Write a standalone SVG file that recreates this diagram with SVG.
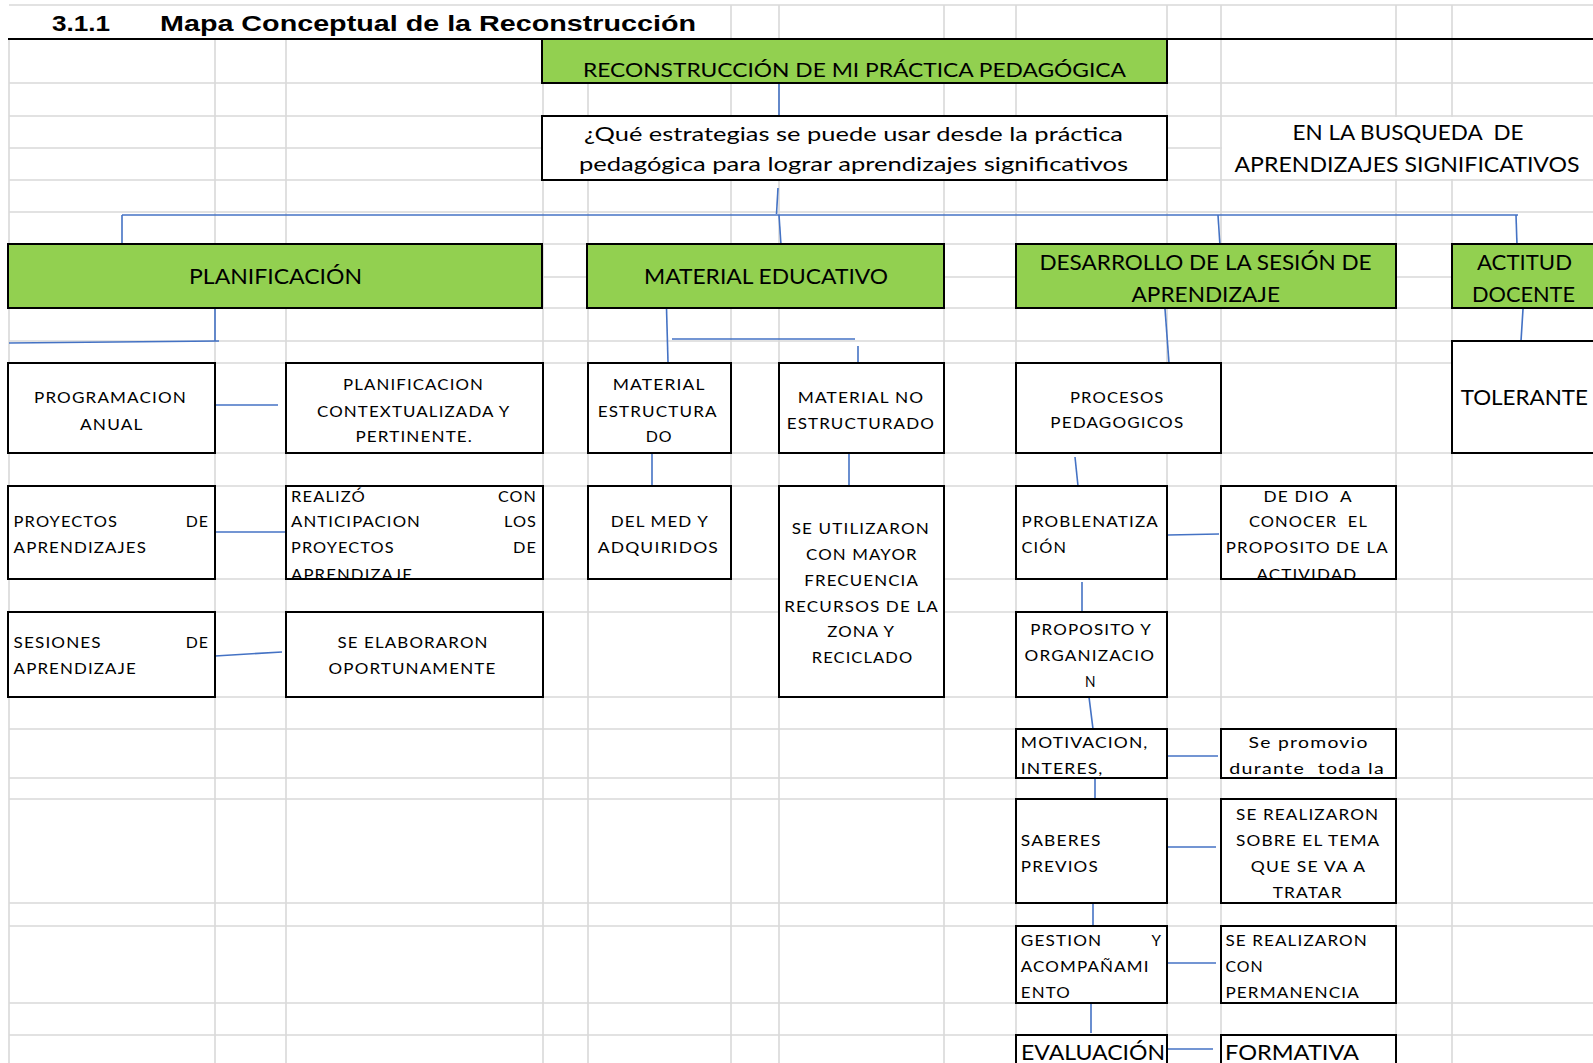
<svg xmlns="http://www.w3.org/2000/svg" width="1593" height="1063" viewBox="0 0 1593 1063">
<style>
.grid{stroke:#d9d9d9;stroke-width:1.6;fill:none}
.box{fill:#fff;stroke:#000;stroke-width:2}
.green{fill:#92d050}
.edge{fill:none;stroke:#000;stroke-width:2}
text{font-family:Lato,"Open Sans","Liberation Sans",sans-serif;fill:#000;white-space:pre}
.s{font-size:15px;letter-spacing:1px}
.m{font-size:19px}
.l{font-size:21px}
.title{font-family:"Liberation Sans",Arial,sans-serif;font-weight:bold;font-size:22px}
.conn line{stroke:#4472c4;stroke-width:1.6}
</style>
<rect width="1593" height="1063" fill="#fff"/>
<g id="grid">
<path class="grid" d="M9 39V1063M215 39V1063M286 39V1063M543 39V1063M588 39V1063M731 5V1063M779 5V1063M944 5V1063M1016 5V1063M1167 5V1063M1221 5V1063M1396 5V1063M1452 5V1063"/>
<path class="grid" d="M9 5H1593M9 83H1593M9 116H1593M9 148H1593M9 180H1593M9 212H1593M9 244H1593M9 277H1593M9 308H1593M9 341H1593M9 363H1593M9 453H1593M9 486H1593M9 579H1593M9 612H1593M9 697H1593M9 729H1593M9 778H1593M9 799H1593M9 903H1593M9 926H1593M9 1003H1593M9 1035H1593"/>
<rect x="1222" y="117" width="371" height="62" fill="#fff"/>
<line x1="8" y1="39" x2="1593" y2="39" stroke="#000" stroke-width="2"/>
</g>
<g id="heading">
<text class="title" x="52" y="31" textLength="58" lengthAdjust="spacingAndGlyphs">3.1.1</text>
<text class="title" x="160" y="31" textLength="536" lengthAdjust="spacingAndGlyphs">Mapa Conceptual de la Reconstrucción</text>
</g>
<g id="connectors" class="conn">
<line x1="779" y1="83" x2="779" y2="116"/>
<line x1="778" y1="188" x2="776.5" y2="214"/>
<line x1="122" y1="215" x2="1518" y2="215"/>
<line x1="122" y1="215" x2="122" y2="244"/>
<line x1="779" y1="215" x2="781" y2="245"/>
<line x1="1218" y1="215" x2="1220" y2="246"/>
<line x1="1516" y1="215" x2="1517" y2="245"/>
<line x1="215" y1="308" x2="215" y2="341"/>
<line x1="9" y1="343" x2="219" y2="341"/>
<line x1="216" y1="405" x2="278" y2="405"/>
<line x1="215" y1="532" x2="286" y2="532"/>
<line x1="215" y1="656" x2="282" y2="652"/>
<line x1="666.5" y1="308" x2="668" y2="362"/>
<line x1="672" y1="339" x2="855" y2="339"/>
<line x1="858" y1="346" x2="858" y2="363"/>
<line x1="652" y1="453" x2="652" y2="486"/>
<line x1="849" y1="452" x2="849" y2="486"/>
<line x1="1165" y1="309" x2="1169" y2="363"/>
<line x1="1523" y1="309" x2="1521" y2="341"/>
<line x1="1075" y1="457" x2="1078" y2="486"/>
<line x1="1168" y1="535" x2="1219" y2="534"/>
<line x1="1082" y1="582" x2="1082" y2="613"/>
<line x1="1089" y1="697" x2="1093" y2="729"/>
<line x1="1162" y1="756" x2="1218" y2="756"/>
<line x1="1095" y1="778" x2="1095" y2="803"/>
<line x1="1168" y1="847" x2="1216" y2="847"/>
<line x1="1093" y1="899" x2="1093" y2="926"/>
<line x1="1164" y1="963" x2="1216" y2="963"/>
<line x1="1091" y1="1003" x2="1091" y2="1033"/>
<line x1="1168" y1="1049" x2="1213" y2="1049"/>
</g>
<g id="n-reconstruccion">
<rect class="box green" x="542" y="39" width="625" height="44"/>
<text class="m" x="583" y="76.5" textLength="543" lengthAdjust="spacingAndGlyphs">RECONSTRUCCIÓN DE MI PRÁCTICA PEDAGÓGICA</text>
</g>
<g id="n-pregunta">
<rect class="box" x="542" y="116" width="625" height="64"/>
<text class="m" x="584" y="141" textLength="539" lengthAdjust="spacingAndGlyphs">¿Qué estrategias se puede usar desde la práctica</text>
<text class="m" x="579" y="171" textLength="549" lengthAdjust="spacingAndGlyphs">pedagógica para lograr aprendizajes significativos</text>
</g>
<g id="n-busqueda">
<text class="l" x="1292.5" y="140" textLength="231" lengthAdjust="spacingAndGlyphs">EN LA BUSQUEDA  DE</text>
<text class="l" x="1234.5" y="171.5" textLength="345" lengthAdjust="spacingAndGlyphs">APRENDIZAJES SIGNIFICATIVOS</text>
</g>
<g id="n-planificacion">
<rect class="box green" x="8" y="244" width="534" height="64"/>
<text class="l" x="189" y="284" textLength="173" lengthAdjust="spacingAndGlyphs">PLANIFICACIÓN</text>
</g>
<g id="n-material-educativo">
<rect class="box green" x="587" y="244" width="357" height="64"/>
<text class="l" x="644" y="284" textLength="244" lengthAdjust="spacingAndGlyphs">MATERIAL EDUCATIVO</text>
</g>
<g id="n-desarrollo">
<rect class="box green" x="1016" y="244" width="380" height="64"/>
<text class="l" x="1039.5" y="270" textLength="332" lengthAdjust="spacingAndGlyphs">DESARROLLO DE LA SESIÓN DE</text>
<text class="l" x="1131.5" y="301.5" textLength="148.5" lengthAdjust="spacingAndGlyphs">APRENDIZAJE</text>
</g>
<g id="n-actitud">
<rect class="box green" x="1452" y="244" width="150" height="64"/>
<text class="l" x="1477" y="270" textLength="95" lengthAdjust="spacingAndGlyphs">ACTITUD</text>
<text class="l" x="1472" y="301.5" textLength="103" lengthAdjust="spacingAndGlyphs">DOCENTE</text>
</g>
<g id="n-programacion">
<rect class="box" x="8" y="363" width="207" height="90"/>
<text class="s" x="34" y="402.5" textLength="153" lengthAdjust="spacingAndGlyphs">PROGRAMACION</text>
<text class="s" x="80" y="429.5" textLength="63.5" lengthAdjust="spacingAndGlyphs">ANUAL</text>
</g>
<g id="n-plan-contextualizada">
<rect class="box" x="286" y="363" width="257" height="90"/>
<text class="s" x="343" y="390" textLength="141" lengthAdjust="spacingAndGlyphs">PLANIFICACION</text>
<text class="s" x="317" y="416.5" textLength="193.5" lengthAdjust="spacingAndGlyphs">CONTEXTUALIZADA Y</text>
<text class="s" x="355.5" y="442" textLength="117.5" lengthAdjust="spacingAndGlyphs">PERTINENTE.</text>
</g>
<g id="n-material-estructurado">
<rect class="box" x="588" y="363" width="143" height="90"/>
<text class="s" x="612.7" y="390" textLength="93" lengthAdjust="spacingAndGlyphs">MATERIAL</text>
<text class="s" x="597.7" y="416.7" textLength="120" lengthAdjust="spacingAndGlyphs">ESTRUCTURA</text>
<text class="s" x="645.7" y="442.3" textLength="27" lengthAdjust="spacingAndGlyphs">DO</text>
</g>
<g id="n-material-no-estructurado">
<rect class="box" x="779" y="363" width="165" height="90"/>
<text class="s" x="797.7" y="403.3" textLength="126.6" lengthAdjust="spacingAndGlyphs">MATERIAL NO</text>
<text class="s" x="786.7" y="429.3" textLength="148.3" lengthAdjust="spacingAndGlyphs">ESTRUCTURADO</text>
</g>
<g id="n-procesos">
<rect class="box" x="1016" y="363" width="205" height="90"/>
<text class="s" x="1070" y="402.7" textLength="94.5" lengthAdjust="spacingAndGlyphs">PROCESOS</text>
<text class="s" x="1050.3" y="428.3" textLength="134" lengthAdjust="spacingAndGlyphs">PEDAGOGICOS</text>
</g>
<g id="n-tolerante">
<rect class="box" x="1452" y="341" width="150" height="112"/>
<text class="l" x="1460.7" y="405" textLength="127.3" lengthAdjust="spacingAndGlyphs">TOLERANTE</text>
</g>
<g id="n-proyectos">
<rect class="box" x="8" y="486" width="207" height="93"/>
<text class="s" x="13.6" y="527.3" textLength="104.4" lengthAdjust="spacingAndGlyphs">PROYECTOS</text>
<text class="s" x="185.7" y="527.3" textLength="23.3" lengthAdjust="spacingAndGlyphs">DE</text>
<text class="s" x="13.6" y="553.3" textLength="133.4" lengthAdjust="spacingAndGlyphs">APRENDIZAJES</text>
</g>
<g id="n-realizo">
<rect class="box" x="286" y="486" width="257" height="93"/>
<text class="s" x="291" y="501.7" textLength="75" lengthAdjust="spacingAndGlyphs">REALIZÓ</text>
<text class="s" x="498" y="501.7" textLength="39" lengthAdjust="spacingAndGlyphs">CON</text>
<text class="s" x="291" y="527.3" textLength="130" lengthAdjust="spacingAndGlyphs">ANTICIPACION</text>
<text class="s" x="504" y="527.3" textLength="33" lengthAdjust="spacingAndGlyphs">LOS</text>
<text class="s" x="291" y="553.3" textLength="103.6" lengthAdjust="spacingAndGlyphs">PROYECTOS</text>
<text class="s" x="513" y="553.3" textLength="24" lengthAdjust="spacingAndGlyphs">DE</text>
<text class="s" x="291" y="580" textLength="122" lengthAdjust="spacingAndGlyphs">APRENDIZAJE</text>
<rect class="edge" x="286" y="486" width="257" height="93"/>
</g>
<g id="n-del-med">
<rect class="box" x="588" y="486" width="143" height="93"/>
<text class="s" x="610.7" y="527.3" textLength="98.3" lengthAdjust="spacingAndGlyphs">DEL MED Y</text>
<text class="s" x="597.7" y="553.3" textLength="121.3" lengthAdjust="spacingAndGlyphs">ADQUIRIDOS</text>
</g>
<g id="n-se-utilizaron">
<rect class="box" x="779" y="486" width="165" height="211"/>
<text class="s" x="791.7" y="534" textLength="138.3" lengthAdjust="spacingAndGlyphs">SE UTILIZARON</text>
<text class="s" x="806" y="560" textLength="111.7" lengthAdjust="spacingAndGlyphs">CON MAYOR</text>
<text class="s" x="804.3" y="585.7" textLength="114.7" lengthAdjust="spacingAndGlyphs">FRECUENCIA</text>
<text class="s" x="784.3" y="611.7" textLength="154.7" lengthAdjust="spacingAndGlyphs">RECURSOS DE LA</text>
<text class="s" x="827.3" y="637.3" textLength="67.7" lengthAdjust="spacingAndGlyphs">ZONA Y</text>
<text class="s" x="811.7" y="663.3" textLength="101.6" lengthAdjust="spacingAndGlyphs">RECICLADO</text>
</g>
<g id="n-problematizacion">
<rect class="box" x="1016" y="486" width="151" height="93"/>
<text class="s" x="1021.6" y="527.3" textLength="137.3" lengthAdjust="spacingAndGlyphs">PROBLENATIZA</text>
<text class="s" x="1021.6" y="553.3" textLength="45.4" lengthAdjust="spacingAndGlyphs">CIÓN</text>
</g>
<g id="n-de-dio">
<rect class="box" x="1221" y="486" width="175" height="93"/>
<text class="s" x="1263.6" y="501.7" textLength="89.3" lengthAdjust="spacingAndGlyphs">DE DIO  A</text>
<text class="s" x="1248.9" y="527.3" textLength="119.1" lengthAdjust="spacingAndGlyphs">CONOCER  EL</text>
<text class="s" x="1225.8" y="553.3" textLength="163" lengthAdjust="spacingAndGlyphs">PROPOSITO DE LA</text>
<text class="s" x="1256.4" y="580" textLength="101" lengthAdjust="spacingAndGlyphs">ACTIVIDAD</text>
<rect class="edge" x="1221" y="486" width="175" height="93"/>
</g>
<g id="n-sesiones">
<rect class="box" x="8" y="612" width="207" height="85"/>
<text class="s" x="13.6" y="648.3" textLength="88.2" lengthAdjust="spacingAndGlyphs">SESIONES</text>
<text class="s" x="185.7" y="648.3" textLength="23.3" lengthAdjust="spacingAndGlyphs">DE</text>
<text class="s" x="13.6" y="674" textLength="123.2" lengthAdjust="spacingAndGlyphs">APRENDIZAJE</text>
</g>
<g id="n-se-elaboraron">
<rect class="box" x="286" y="612" width="257" height="85"/>
<text class="s" x="337.5" y="648.3" textLength="151.1" lengthAdjust="spacingAndGlyphs">SE ELABORARON</text>
<text class="s" x="328.6" y="674" textLength="167.8" lengthAdjust="spacingAndGlyphs">OPORTUNAMENTE</text>
</g>
<g id="n-proposito">
<rect class="box" x="1016" y="612" width="151" height="85"/>
<text class="s" x="1030.3" y="635" textLength="121.7" lengthAdjust="spacingAndGlyphs">PROPOSITO Y</text>
<text class="s" x="1024.6" y="661" textLength="130.4" lengthAdjust="spacingAndGlyphs">ORGANIZACIO</text>
<text class="s" x="1085" y="686.7" textLength="11.4" lengthAdjust="spacingAndGlyphs">N</text>
</g>
<g id="n-motivacion">
<rect class="box" x="1016" y="729" width="151" height="49"/>
<text class="s" x="1020.8" y="748.3" textLength="127.7" lengthAdjust="spacingAndGlyphs">MOTIVACION,</text>
<text class="s" x="1020.8" y="774" textLength="82.7" lengthAdjust="spacingAndGlyphs">INTERES,</text>
<rect class="edge" x="1016" y="729" width="151" height="49"/>
</g>
<g id="n-se-promovio">
<rect class="box" x="1221" y="729" width="175" height="49"/>
<text class="s" x="1248.5" y="748.3" textLength="120.3" lengthAdjust="spacingAndGlyphs">Se promovio</text>
<text class="s" x="1229.2" y="774" textLength="155.8" lengthAdjust="spacingAndGlyphs">durante  toda la</text>
<rect class="edge" x="1221" y="729" width="175" height="49"/>
</g>
<g id="n-saberes">
<rect class="box" x="1016" y="799" width="151" height="104"/>
<text class="s" x="1020.8" y="846" textLength="80.7" lengthAdjust="spacingAndGlyphs">SABERES</text>
<text class="s" x="1020.8" y="871.7" textLength="78" lengthAdjust="spacingAndGlyphs">PREVIOS</text>
</g>
<g id="n-se-realizaron-tema">
<rect class="box" x="1221" y="799" width="175" height="104"/>
<text class="s" x="1236" y="820" textLength="143.2" lengthAdjust="spacingAndGlyphs">SE REALIZARON</text>
<text class="s" x="1236" y="846" textLength="144.4" lengthAdjust="spacingAndGlyphs">SOBRE EL TEMA</text>
<text class="s" x="1250.8" y="871.7" textLength="115.4" lengthAdjust="spacingAndGlyphs">QUE SE VA A</text>
<text class="s" x="1272.7" y="897.7" textLength="70" lengthAdjust="spacingAndGlyphs">TRATAR</text>
</g>
<g id="n-gestion">
<rect class="box" x="1016" y="926" width="151" height="77"/>
<text class="s" x="1020.8" y="946" textLength="81.5" lengthAdjust="spacingAndGlyphs">GESTION</text>
<text class="s" x="1151.5" y="946" textLength="10.5" lengthAdjust="spacingAndGlyphs">Y</text>
<text class="s" x="1020.8" y="971.7" textLength="128.8" lengthAdjust="spacingAndGlyphs">ACOMPAÑAMI</text>
<text class="s" x="1020.8" y="997.7" textLength="50" lengthAdjust="spacingAndGlyphs">ENTO</text>
</g>
<g id="n-se-realizaron-permanencia">
<rect class="box" x="1221" y="926" width="175" height="77"/>
<text class="s" x="1225.4" y="946" textLength="142.6" lengthAdjust="spacingAndGlyphs">SE REALIZARON</text>
<text class="s" x="1225.4" y="971.7" textLength="38.4" lengthAdjust="spacingAndGlyphs">CON</text>
<text class="s" x="1225.4" y="997.7" textLength="134.6" lengthAdjust="spacingAndGlyphs">PERMANENCIA</text>
</g>
<g id="n-evaluacion">
<rect class="box" x="1016" y="1035" width="151" height="40"/>
<text class="l" x="1021" y="1060" textLength="144" lengthAdjust="spacingAndGlyphs">EVALUACIÓN</text>
</g>
<g id="n-formativa">
<rect class="box" x="1221" y="1035" width="175" height="40"/>
<text class="l" x="1225" y="1060" textLength="134" lengthAdjust="spacingAndGlyphs">FORMATIVA</text>
</g>
</svg>
